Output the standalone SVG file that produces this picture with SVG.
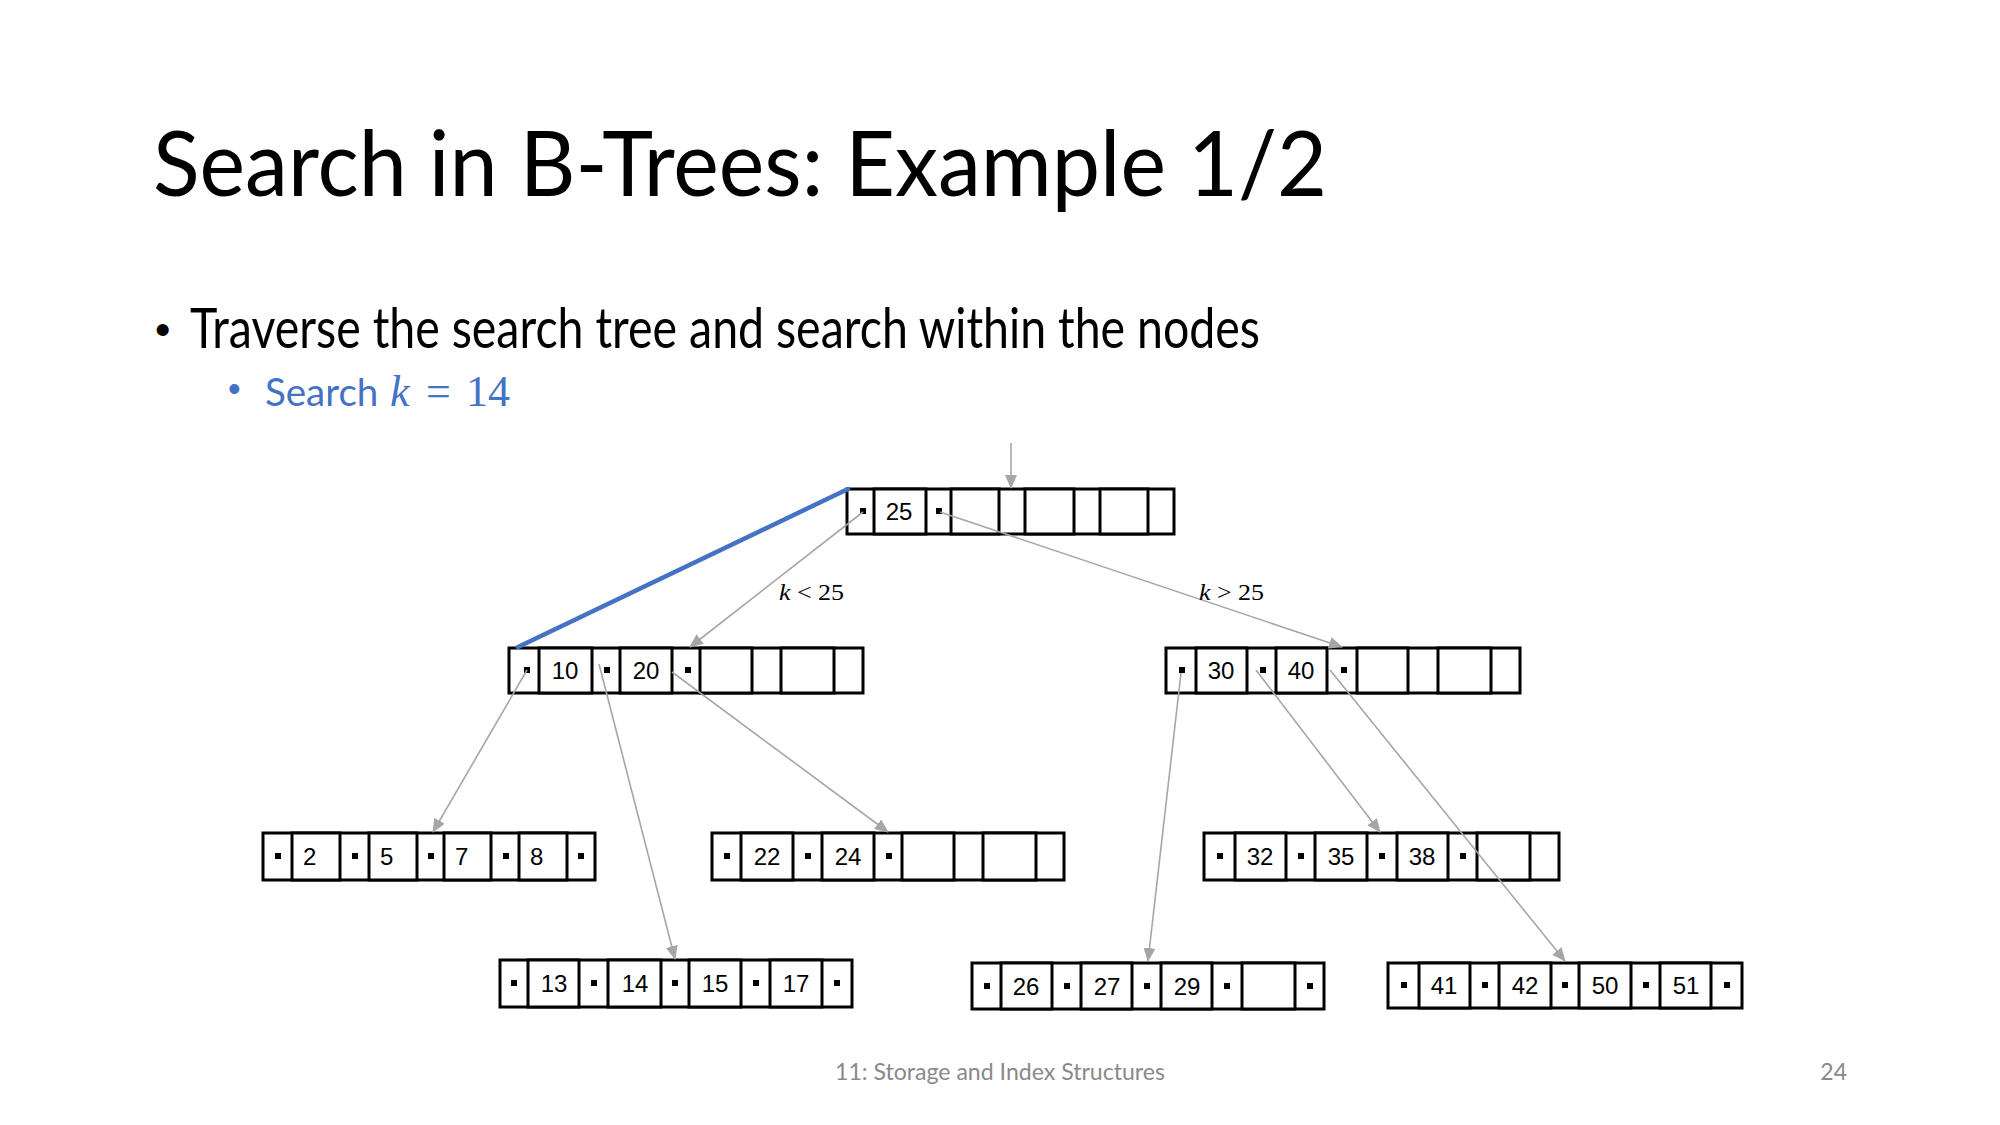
<svg xmlns="http://www.w3.org/2000/svg" width="2000" height="1125" viewBox="0 0 2000 1125">
<style>
.c{fill:#fff;stroke:#000;stroke-width:3}
.d{fill:#000}
.t{font-family:"Liberation Sans",Arial,sans-serif;font-size:24px;fill:#000;text-anchor:middle}
.ts{font-family:"Liberation Sans",Arial,sans-serif;font-size:24px;fill:#000}
.ln{stroke:#a6a6a6;stroke-width:1.6;fill:none;marker-end:url(#ah)}
.lbl{font-family:"Liberation Serif","Times New Roman",serif;font-size:24px;fill:#000}
.ui{font-family:Lato,"Open Sans",sans-serif}
</style>
<defs>
<marker id="ah" markerUnits="userSpaceOnUse" markerWidth="14" markerHeight="12" refX="13" refY="6" orient="auto">
<path d="M0,0 L14,6 L0,12 z" fill="#a6a6a6"/>
</marker>
</defs>
<rect width="2000" height="1125" fill="#fff"/>

<text class="ui" x="153" y="196" font-size="92" textLength="1174" lengthAdjust="spacingAndGlyphs" fill="#000">Search in B-Trees: Example 1/2</text>
<text x="155" y="345" font-family="Liberation Sans,Arial,sans-serif" font-size="44" fill="#000">•</text>
<text class="ui" x="190" y="348" font-size="56" textLength="1070" lengthAdjust="spacingAndGlyphs" fill="#000">Traverse the search tree and search within the nodes</text>
<text x="228" y="401" font-family="Liberation Sans,Arial,sans-serif" font-size="36" fill="#4472c4">•</text>
<text y="406" font-family="Liberation Serif,serif" font-size="44" fill="#4472c4"><tspan x="265" font-family="Lato,'Open Sans',sans-serif" font-size="38.5">Search</tspan><tspan x="390" font-style="italic">k</tspan><tspan x="426">=</tspan><tspan x="466">14</tspan></text>

<g id="root">
<rect class="c" x="847" y="489" width="327" height="45"/>
<rect class="c" x="874" y="489" width="52" height="45"/>
<rect class="c" x="951" y="489" width="48" height="45"/>
<rect class="c" x="1025" y="489" width="49" height="45"/>
<rect class="c" x="1100" y="489" width="48" height="45"/>
<rect class="d" x="860" y="508" width="6" height="6"/>
<rect class="d" x="936" y="508" width="6" height="6"/>
<text class="t" x="899" y="520">25</text>
</g>

<g id="n10_20">
<rect class="c" x="509" y="648" width="354" height="45"/>
<rect class="c" x="539" y="648" width="53" height="45"/>
<rect class="c" x="620" y="648" width="52" height="45"/>
<rect class="c" x="700" y="648" width="52" height="45"/>
<rect class="c" x="781" y="648" width="53" height="45"/>
<rect class="d" x="524" y="667" width="6" height="6"/>
<rect class="d" x="604" y="667" width="6" height="6"/>
<rect class="d" x="685" y="667" width="6" height="6"/>
<text class="t" x="565" y="679">10</text>
<text class="t" x="646" y="679">20</text>
</g>

<g id="n30_40">
<rect class="c" x="1166" y="648" width="354" height="45"/>
<rect class="c" x="1196" y="648" width="51" height="45"/>
<rect class="c" x="1276" y="648" width="51" height="45"/>
<rect class="c" x="1357" y="648" width="51" height="45"/>
<rect class="c" x="1438" y="648" width="53" height="45"/>
<rect class="d" x="1179" y="667" width="6" height="6"/>
<rect class="d" x="1260" y="667" width="6" height="6"/>
<rect class="d" x="1341" y="667" width="6" height="6"/>
<text class="t" x="1221" y="679">30</text>
<text class="t" x="1301" y="679">40</text>
</g>

<g id="leaf_2_5_7_8">
<rect class="c" x="263" y="833" width="332" height="47"/>
<rect class="c" x="292" y="833" width="48" height="47"/>
<rect class="c" x="369" y="833" width="48" height="47"/>
<rect class="c" x="444" y="833" width="47" height="47"/>
<rect class="c" x="519" y="833" width="48" height="47"/>
<rect class="d" x="275" y="853" width="6" height="6"/>
<rect class="d" x="352" y="853" width="6" height="6"/>
<rect class="d" x="428" y="853" width="6" height="6"/>
<rect class="d" x="503" y="853" width="6" height="6"/>
<rect class="d" x="578" y="853" width="6" height="6"/>
<text class="ts" x="303" y="865">2</text>
<text class="ts" x="380" y="865">5</text>
<text class="ts" x="455" y="865">7</text>
<text class="ts" x="530" y="865">8</text>
</g>

<g id="leaf_22_24">
<rect class="c" x="712" y="833" width="352" height="47"/>
<rect class="c" x="741" y="833" width="52" height="47"/>
<rect class="c" x="822" y="833" width="52" height="47"/>
<rect class="c" x="902" y="833" width="52" height="47"/>
<rect class="c" x="983" y="833" width="53" height="47"/>
<rect class="d" x="724" y="853" width="6" height="6"/>
<rect class="d" x="805" y="853" width="6" height="6"/>
<rect class="d" x="886" y="853" width="6" height="6"/>
<text class="t" x="767" y="865">22</text>
<text class="t" x="848" y="865">24</text>
</g>

<g id="leaf_32_35_38">
<rect class="c" x="1204" y="833" width="355" height="47"/>
<rect class="c" x="1235" y="833" width="51" height="47"/>
<rect class="c" x="1315" y="833" width="52" height="47"/>
<rect class="c" x="1397" y="833" width="51" height="47"/>
<rect class="c" x="1477" y="833" width="53" height="47"/>
<rect class="d" x="1217" y="853" width="6" height="6"/>
<rect class="d" x="1298" y="853" width="6" height="6"/>
<rect class="d" x="1379" y="853" width="6" height="6"/>
<rect class="d" x="1460" y="853" width="6" height="6"/>
<text class="t" x="1260" y="865">32</text>
<text class="t" x="1341" y="865">35</text>
<text class="t" x="1422" y="865">38</text>
</g>

<g id="leaf_13_14_15_17">
<rect class="c" x="500" y="960" width="352" height="47"/>
<rect class="c" x="528" y="960" width="51" height="47"/>
<rect class="c" x="608" y="960" width="53" height="47"/>
<rect class="c" x="689" y="960" width="52" height="47"/>
<rect class="c" x="770" y="960" width="52" height="47"/>
<rect class="d" x="511" y="980" width="6" height="6"/>
<rect class="d" x="591" y="980" width="6" height="6"/>
<rect class="d" x="672" y="980" width="6" height="6"/>
<rect class="d" x="753" y="980" width="6" height="6"/>
<rect class="d" x="834" y="980" width="6" height="6"/>
<text class="t" x="554" y="992">13</text>
<text class="t" x="635" y="992">14</text>
<text class="t" x="715" y="992">15</text>
<text class="t" x="796" y="992">17</text>
</g>

<g id="leaf_26_27_29">
<rect class="c" x="972" y="963" width="352" height="46"/>
<rect class="c" x="1001" y="963" width="51" height="46"/>
<rect class="c" x="1081" y="963" width="51" height="46"/>
<rect class="c" x="1161" y="963" width="51" height="46"/>
<rect class="c" x="1242" y="963" width="53" height="46"/>
<rect class="d" x="984" y="983" width="6" height="6"/>
<rect class="d" x="1064" y="983" width="6" height="6"/>
<rect class="d" x="1144" y="983" width="6" height="6"/>
<rect class="d" x="1224" y="983" width="6" height="6"/>
<rect class="d" x="1307" y="983" width="6" height="6"/>
<text class="t" x="1026" y="995">26</text>
<text class="t" x="1107" y="995">27</text>
<text class="t" x="1187" y="995">29</text>
</g>

<g id="leaf_41_42_50_51">
<rect class="c" x="1388" y="963" width="354" height="45"/>
<rect class="c" x="1419" y="963" width="51" height="45"/>
<rect class="c" x="1499" y="963" width="52" height="45"/>
<rect class="c" x="1579" y="963" width="52" height="45"/>
<rect class="c" x="1660" y="963" width="51" height="45"/>
<rect class="d" x="1401" y="982" width="6" height="6"/>
<rect class="d" x="1482" y="982" width="6" height="6"/>
<rect class="d" x="1562" y="982" width="6" height="6"/>
<rect class="d" x="1643" y="982" width="6" height="6"/>
<rect class="d" x="1724" y="982" width="6" height="6"/>
<text class="t" x="1444" y="994">41</text>
<text class="t" x="1525" y="994">42</text>
<text class="t" x="1605" y="994">50</text>
<text class="t" x="1686" y="994">51</text>
</g>

<g id="connectors">
<line class="ln" x1="1011" y1="443" x2="1011" y2="488"/>
<line class="ln" x1="863" y1="512" x2="690" y2="647"/>
<line class="ln" x1="940" y1="512" x2="1342" y2="647"/>
<line class="ln" x1="527" y1="670" x2="433" y2="832"/>
<line class="ln" x1="599" y1="664" x2="675" y2="959"/>
<line class="ln" x1="672" y1="672" x2="888" y2="832"/>
<line class="ln" x1="1181" y1="673" x2="1148" y2="961"/>
<line class="ln" x1="1256" y1="670" x2="1380" y2="832"/>
<line class="ln" x1="1330" y1="670" x2="1565" y2="961"/>
<line x1="518" y1="647" x2="848" y2="489" stroke="#4472c4" stroke-width="4.5" stroke-linecap="round"/>
<text class="lbl" x="779" y="600" textLength="65" lengthAdjust="spacingAndGlyphs"><tspan font-style="italic">k</tspan> &lt; 25</text>
<text class="lbl" x="1199" y="600" textLength="65" lengthAdjust="spacingAndGlyphs"><tspan font-style="italic">k</tspan> &gt; 25</text>
</g>

<text class="ui" x="1000" y="1080" font-size="23" fill="#898989" text-anchor="middle" textLength="330" lengthAdjust="spacingAndGlyphs">11: Storage and Index Structures</text>
<text class="ui" x="1847" y="1080" font-size="23" fill="#898989" text-anchor="end">24</text>
</svg>
